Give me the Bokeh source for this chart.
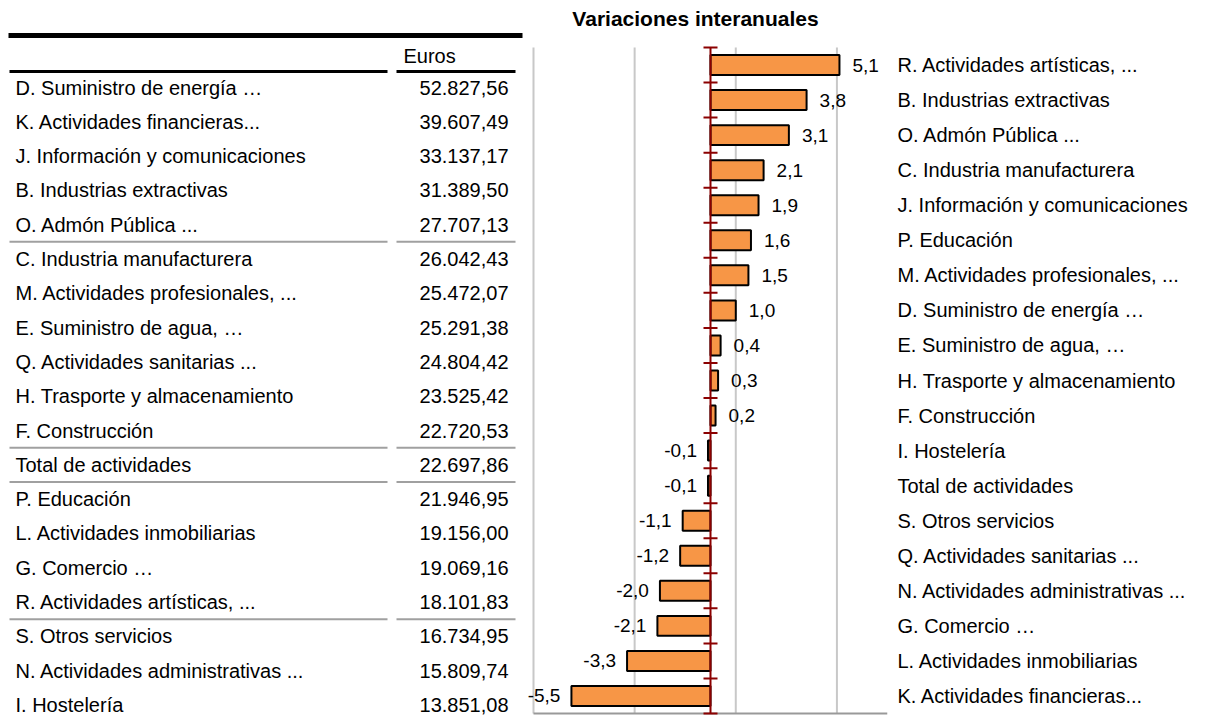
from bokeh.plotting import figure
from bokeh.layouts import row
from bokeh.models import Range1d, FixedTicker, ColumnDataSource
from bokeh.core.properties import value
from bokeh.embed import file_html
from bokeh.resources import INLINE

FONT = "Liberation Sans"

# ---------------- data ----------------
table_header = "Euros"
table_names = [
    "D. Suministro de energía …",
    "K. Actividades financieras...",
    "J. Información y comunicaciones",
    "B. Industrias extractivas",
    "O. Admón Pública ...",
    "C. Industria manufacturera",
    "M. Actividades profesionales, ...",
    "E. Suministro de agua, …",
    "Q. Actividades sanitarias ...",
    "H. Trasporte y almacenamiento",
    "F. Construcción",
    "Total de actividades",
    "P. Educación",
    "L. Actividades inmobiliarias",
    "G. Comercio …",
    "R. Actividades artísticas, ...",
    "S. Otros servicios",
    "N. Actividades administrativas ...",
    "I. Hostelería",
]
table_euros = [52827.56, 39607.49, 33137.17, 31389.50, 27707.13, 26042.43,
               25472.07, 25291.38, 24804.42, 23525.42, 22720.53, 22697.86,
               21946.95, 19156.00, 19069.16, 18101.83, 16734.95, 15809.74,
               13851.08]
table_rules_after = [4, 10, 11, 15]

chart_title = "Variaciones interanuales"
var_names = [
    "R. Actividades artísticas, ...",
    "B. Industrias extractivas",
    "O. Admón Pública ...",
    "C. Industria manufacturera",
    "J. Información y comunicaciones",
    "P. Educación",
    "M. Actividades profesionales, ...",
    "D. Suministro de energía …",
    "E. Suministro de agua, …",
    "H. Trasporte y almacenamiento",
    "F. Construcción",
    "I. Hostelería",
    "Total de actividades",
    "S. Otros servicios",
    "Q. Actividades sanitarias ...",
    "N. Actividades administrativas ...",
    "G. Comercio …",
    "L. Actividades inmobiliarias",
    "K. Actividades financieras...",
]
var_values = [5.1, 3.8, 3.1, 2.1, 1.9, 1.6, 1.5, 1.0, 0.4, 0.3, 0.2,
              -0.1, -0.1, -1.1, -1.2, -2.0, -2.1, -3.3, -5.5]
x_min, x_max = -7, 7
x_grid_ticks = [-7, -3, 1, 5]


def es_num(v, d):
    s = f"{v:,.{d}f}"
    return s.replace(",", "#").replace(".", ",").replace("#", ".")


H = 716
LEFT_W = 525
RIGHT_W = 685

# ---------------- left: table ----------------
t = figure(width=LEFT_W, height=H, x_range=Range1d(0, LEFT_W),
           y_range=Range1d(H, 0), toolbar_location=None, output_backend="svg",
           x_axis_type=None, y_axis_type=None, min_border=0,
           outline_line_color=None)

row0, row_step = 87.0, 34.3
row_y = [row0 + i * row_step for i in range(len(table_names))]
tsrc = ColumnDataSource(dict(y=row_y, name=table_names,
                             val=[es_num(v, 2) for v in table_euros]))
t.text(x=15, y="y", text="name", source=tsrc, text_font=value(FONT),
       text_font_size="20px", text_baseline="middle", text_align="left",
       text_color="black")
t.text(x=508, y="y", text="val", source=tsrc, text_font=value(FONT),
       text_font_size="20px", text_baseline="middle", text_align="right",
       text_color="black")
t.text(x=[403], y=[55], text=[table_header], text_font=value(FONT),
       text_font_size="20px", text_baseline="middle", text_align="left",
       text_color="black")

t.segment(x0=[8], x1=[522], y0=[35], y1=[35], line_color="black", line_width=5)
t.segment(x0=[9, 396], x1=[387, 515], y0=[71, 71], y1=[71, 71],
          line_color="black", line_width=3)
rule_y = [(row_y[i] + row_y[i + 1]) / 2 for i in table_rules_after]
t.segment(x0=[9] * len(rule_y) + [396] * len(rule_y),
          x1=[387] * len(rule_y) + [515] * len(rule_y),
          y0=rule_y * 2, y1=rule_y * 2, line_color="#A0A0A0", line_width=2)

# ---------------- right: bar chart ----------------
n = len(var_names)
idx = list(range(n))
plot_left, plot_right = 533.0, 887.0          # pixel columns of the plot area
plot_top, plot_bottom = 47.0, 713.0          # pixel rows of the plot area
xunit = (plot_right - plot_left) / (x_max - x_min)
x_start = x_min - (plot_left - LEFT_W) / xunit   # frame starts at the table edge
unit = (plot_bottom - plot_top) / n           # pixels per category
y_top = -0.5 - plot_top / unit
y_bot = (n - 0.5) + (H - plot_bottom) / unit

p = figure(width=RIGHT_W, height=H, x_range=Range1d(x_start, x_max),
           y_range=Range1d(y_bot, y_top), y_axis_location="right",
           x_axis_location=None, toolbar_location=None, output_backend="svg",
           min_border_left=0, min_border_right=int(RIGHT_W - (plot_right - LEFT_W)),
           min_border_top=0, min_border_bottom=0, outline_line_color=None)
p.grid.visible = False

p.yaxis.ticker = FixedTicker(ticks=idx)
p.yaxis.major_label_overrides = {i: name for i, name in zip(idx, var_names)}
p.yaxis.axis_line_color = None
p.yaxis.major_tick_line_color = None
p.yaxis.minor_tick_line_color = None
p.yaxis.major_tick_out = 0
p.yaxis.major_tick_in = 0
p.yaxis.major_label_standoff = 10
p.yaxis.major_label_text_font = FONT
p.yaxis.major_label_text_font_size = "20px"
p.yaxis.major_label_text_color = "black"

# vertical gridlines over the plot area only
p.segment(x0=x_grid_ticks, x1=x_grid_ticks, y0=[-0.5] * len(x_grid_ticks),
          y1=[n - 0.5] * len(x_grid_ticks), line_color="#C8C8C8", line_width=2)
# bottom axis line
p.segment(x0=[x_min], x1=[x_max], y0=[n - 0.5], y1=[n - 0.5],
          line_color="#999999", line_width=2)

src = ColumnDataSource(dict(y=idx, v=var_values))
p.hbar(y="y", left=0, right="v", height=0.57, source=src,
       fill_color="#F79646", line_color="black", line_width=2)

pos = ColumnDataSource(dict(
    y=[i for i, v in zip(idx, var_values) if v >= 0],
    v=[v for v in var_values if v >= 0],
    lab=[es_num(v, 1) for v in var_values if v >= 0]))
neg = ColumnDataSource(dict(
    y=[i for i, v in zip(idx, var_values) if v < 0],
    v=[v for v in var_values if v < 0],
    lab=[es_num(v, 1) for v in var_values if v < 0]))
p.text(x="v", y="y", text="lab", source=pos, x_offset=13,
       text_font=value(FONT), text_font_size="19px", text_align="left",
       text_baseline="middle", text_color="black")
p.text(x="v", y="y", text="lab", source=neg, x_offset=-11,
       text_font=value(FONT), text_font_size="19px", text_align="right",
       text_baseline="middle", text_color="black")

# zero axis with category tick marks
p.segment(x0=[0], x1=[0], y0=[-0.5], y1=[n - 0.5], line_color="#8B0000",
          line_width=2)
bounds = [i - 0.5 for i in range(n + 1)]
p.scatter(x=[0] * len(bounds), y=bounds, marker="dash", size=14,
          line_color="#8B0000", line_width=2)

# title
title_y = -0.5 - (plot_top - 18) / unit
p.text(x=[0], y=[title_y], text=[chart_title], x_offset=-15,
       text_font=value(FONT), text_font_size="21px", text_font_style="bold",
       text_align="center", text_baseline="middle", text_color="black")

layout = row(t, p, spacing=0)
open("out.html", "w").write(file_html(layout, INLINE))
